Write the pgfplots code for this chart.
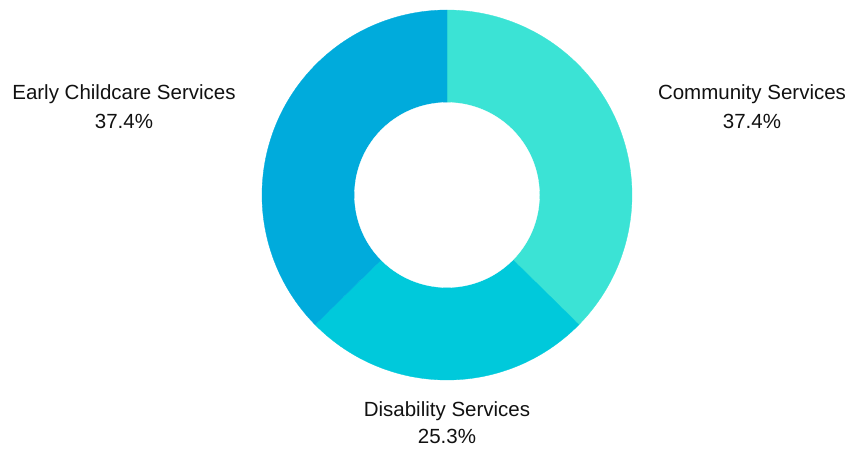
\documentclass[border=0pt]{standalone}
\usepackage{fontspec}
\setmainfont{Liberation Sans}
\usepackage{pgfplots}
\pgfplotsset{compat=1.18}
\definecolor{cComm}{HTML}{3BE3D5}
\definecolor{cDis}{HTML}{00C9DB}
\definecolor{cEarly}{HTML}{00ABDC}
\definecolor{txt}{HTML}{111111}
% shares (percent): Community 37.4, Disability 25.3, Early Childcare 37.4
% angles clockwise from 12 o'clock, normalised by total 100.1
\begin{document}
\begin{tikzpicture}
\begin{axis}[
  scale only axis, width=848pt, height=448pt,
  xmin=0, xmax=848, ymin=0, ymax=448,
  hide axis, clip=false,
]
\path (rel axis cs:0,0) rectangle (rel axis cs:1,1);
% Community Services 37.4% : 90 -> -44.5
\addplot[fill=cComm, draw=cComm, line width=0.3pt, domain=-44.5:90, samples=120]
  ({447+185*cos(x)},{253+185*sin(x)}) -- (axis cs:447,253) -- cycle;
% Disability Services 25.3% : -44.5 -> -135.5
\addplot[fill=cDis, draw=cDis, line width=0.3pt, domain=-135.5:-44.5, samples=90]
  ({447+185*cos(x)},{253+185*sin(x)}) -- (axis cs:447,253) -- cycle;
% Early Childcare Services 37.4% : -135.5 -> -270
\addplot[fill=cEarly, draw=cEarly, line width=0.3pt, domain=-270:-135.5, samples=120]
  ({447+185*cos(x)},{253+185*sin(x)}) -- (axis cs:447,253) -- cycle;
% hole
\addplot[fill=white, draw=white, line width=0.3pt, domain=0:360, samples=160]
  ({447+92.5*cos(x)},{253+92.5*sin(x)}) -- cycle;

\begin{scope}[every node/.style={font=\fontsize{20.5}{24}\selectfont, text=txt, anchor=base, inner sep=0pt}]
\node at (axis cs:124,348.5) {Early Childcare Services};
\node at (axis cs:124,319.5) {37.4\%};
\node at (axis cs:752,348.5) {Community Services};
\node at (axis cs:752,319.5) {37.4\%};
\node at (axis cs:447,31.5) {Disability Services};
\node at (axis cs:447,4.5) {25.3\%};
\end{scope}
\end{axis}
\end{tikzpicture}
\end{document}
